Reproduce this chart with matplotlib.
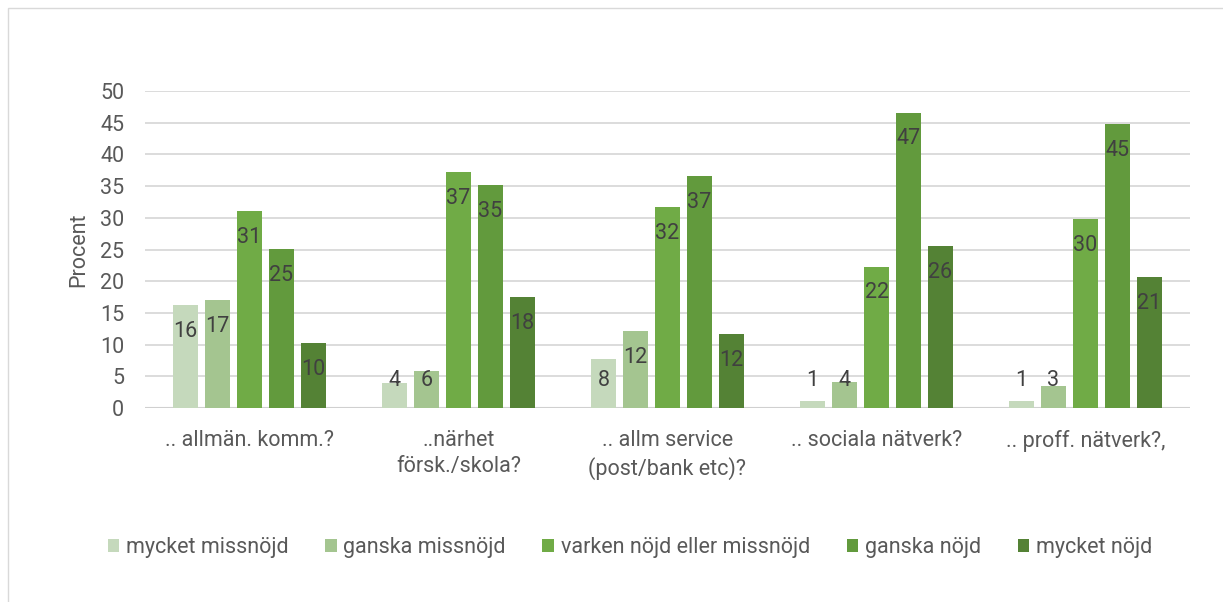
import matplotlib
matplotlib.use("Agg")
import matplotlib.pyplot as plt
import numpy as np
from matplotlib.patches import Rectangle

plt.rcParams["font.family"] = ["Roboto", "DejaVu Sans"]

# data
kategorier = [".. allmän. komm.?", "..närhet\nförsk./skola?", ".. allm service\n(post/bank etc)?",
              ".. sociala nätverk?", ".. proff. nätverk?,"]
serier = ["mycket missnöjd", "ganska missnöjd", "varken nöjd eller missnöjd", "ganska nöjd", "mycket nöjd"]
mycket_missnojd = [16.2, 4.0, 7.7, 1.15, 1.15]
ganska_missnojd = [17.0, 5.9, 12.1, 4.15, 3.4]
varken = [31.1, 37.2, 31.7, 22.3, 29.8]
ganska_nojd = [25.1, 35.2, 36.6, 46.6, 44.8]
mycket_nojd = [10.2, 17.5, 11.6, 25.6, 20.7]
farger = ["#C5D9BC", "#A4C590", "#70AB46", "#629A3D", "#548235"]

values = [mycket_missnojd, ganska_missnojd, varken, ganska_nojd, mycket_nojd]

GRID = "#D9D9D9"; TXT = "#595959"; LBL = "#404040"
FS = 15.5

fig = plt.figure(figsize=(12.23, 6.02), dpi=100)
fig.patches.append(Rectangle((8/1223, -0.01), 1.02, 1 - 8/602 + 0.01, transform=fig.transFigure,
                             fill=False, edgecolor="#D9D9D9", lw=1))
ax = fig.add_axes([145/1223, 1 - 408/602, 1045/1223, 317/602])

x = np.arange(len(kategorier))
w = 0.12; step = 0.153
for i, (vals, col, name) in enumerate(zip(values, farger, serier)):
    xs = x + (i - 2) * step
    ax.bar(xs, vals, width=w, color=col, label=name, zorder=3)
    for xi, v in zip(xs, vals):
        ax.text(xi, max(v - 4.15, 4.4), f"{v:.0f}", ha="center", va="center",
                fontsize=FS, color=LBL, zorder=4)

ax.set_ylim(0, 50)
ax.set_xlim(-0.5, 4.5)
ax.set_yticks(range(0, 51, 5))
ax.yaxis.grid(True, color=GRID, lw=1.3, zorder=0)
ax.axhline(0, color="#D0D0D0", lw=1.5, zorder=2)
for s in ax.spines.values():
    s.set_visible(False)
ax.tick_params(axis="both", length=0, labelsize=FS, labelcolor=TXT)
ax.tick_params(axis="y", pad=15)
ax.tick_params(axis="x", pad=16)
ax.set_xticks(x)
ax.set_xticklabels(kategorier, linespacing=1.3)
ax.set_ylabel("Procent", fontsize=FS, color=TXT, labelpad=8)

fig.legend(loc="center", bbox_to_anchor=(0.515, 1 - 548/602), ncol=5, frameon=False,
           fontsize=FS, labelcolor=TXT, handlelength=0.55, handleheight=0.55,
           handletextpad=0.3, columnspacing=1.7)

fig.savefig("out.png", dpi=100, facecolor="white")
